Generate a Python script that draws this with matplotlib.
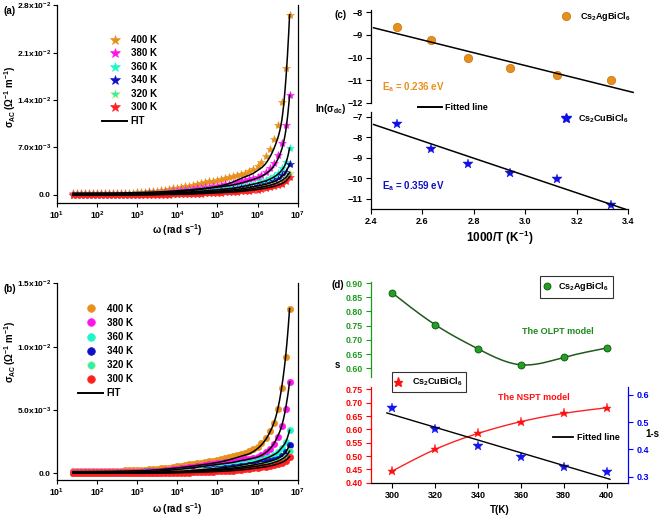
import numpy as np
import matplotlib
matplotlib.use('Agg')
import matplotlib.pyplot as plt
from matplotlib.lines import Line2D
from matplotlib.ticker import NullLocator

plt.rcParams['font.family'] = ['Liberation Sans', 'DejaVu Sans']
plt.rcParams['font.weight'] = 'bold'
plt.rcParams['axes.labelweight'] = 'bold'
plt.rcParams['mathtext.fontset'] = 'custom'
plt.rcParams['mathtext.rm'] = 'Liberation Sans:bold'
plt.rcParams['mathtext.it'] = 'Liberation Sans:bold'
plt.rcParams['mathtext.bf'] = 'Liberation Sans:bold'
plt.rcParams['mathtext.sf'] = 'Liberation Sans:bold'
plt.rcParams['mathtext.default'] = 'rm'
plt.rcParams['axes.linewidth'] = 0.9

# ---------------- data: panels (a) and (b) -----------------
omega = [25.0, 31.5, 39.6, 49.9,
         62.8, 79.1, 99.6, 125, 158, 199, 250, 315, 396, 499,
         628, 791, 996, 1250, 1580, 1990, 2500, 3150, 3960, 4990,
         6280, 7910, 9960, 1.25e4, 1.58e4, 1.99e4, 2.50e4, 3.15e4, 3.96e4, 4.99e4,
         6.28e4, 7.91e4, 9.96e4, 1.25e5, 1.58e5, 1.99e5, 2.50e5, 3.15e5, 3.96e5, 4.99e5,
         6.28e5, 7.91e5, 9.96e5, 1.25e6, 1.58e6, 1.99e6, 2.50e6, 3.15e6, 3.96e6, 4.99e6,
         6.28e6]
temps = ['400 K', '380 K', '360 K', '340 K', '320 K', '300 K']
colors = ['#E8901C', '#FF14F0', '#22F5C8', '#1010C8', '#30F0B0', '#FF2020']
edge_colors = ['#E8901C', '#FF14F0', '#22F5C8', '#1010C8', '#E8F080', '#FF2020']

# sigma_AC in units of 1e-3 (ohm^-1 m^-1), Cs2CuBiCl6 (a)
sig_a_400 = [0.25, 0.25, 0.25, 0.26, 0.26, 0.26, 0.27,
             0.27, 0.28, 0.28, 0.29, 0.30, 0.31, 0.32, 0.33, 0.35, 0.36,
             0.40, 0.45, 0.50, 0.56, 0.62, 0.70, 0.78, 0.87, 0.97, 1.07,
             1.17, 1.27, 1.38, 1.49, 1.60, 1.72, 1.85, 1.98, 2.12, 2.27,
             2.40, 2.50, 2.65, 2.80, 2.95, 3.10, 3.30, 3.50, 3.80, 4.20,
             4.80, 5.70, 6.80, 8.20, 10.3, 13.7, 18.8, 26.6]
sig_a_380 = [0.10, 0.10, 0.10, 0.10, 0.11, 0.11, 0.11,
             0.11, 0.12, 0.12, 0.12, 0.13, 0.13, 0.14, 0.15, 0.16, 0.17,
             0.18, 0.20, 0.22, 0.25, 0.28, 0.32, 0.37, 0.43, 0.50, 0.58,
             0.65, 0.72, 0.80, 0.88, 0.96, 1.04, 1.12, 1.20, 1.28, 1.36,
             1.45, 1.54, 1.64, 1.75, 1.87, 2.00, 2.13, 2.28, 2.45, 2.65,
             3.00, 3.40, 3.90, 4.70, 5.90, 7.60, 10.3, 14.7]
sig_a_360 = [0.03, 0.03, 0.03, 0.03, 0.03, 0.03, 0.03,
             0.03, 0.03, 0.04, 0.04, 0.04, 0.05, 0.05, 0.06, 0.06, 0.07,
             0.08, 0.09, 0.10, 0.12, 0.14, 0.16, 0.19, 0.23, 0.28, 0.34,
             0.40, 0.45, 0.50, 0.55, 0.60, 0.65, 0.70, 0.75, 0.80, 0.86,
             0.92, 0.98, 1.05, 1.12, 1.20, 1.30, 1.40, 1.52, 1.66, 1.82,
             2.00, 2.20, 2.50, 2.80, 3.30, 3.90, 4.90, 6.90]
sig_a_340 = [0.02, 0.02, 0.02, 0.02, 0.02, 0.02, 0.02,
             0.02, 0.02, 0.02, 0.03, 0.03, 0.03, 0.03, 0.04, 0.04, 0.05,
             0.05, 0.06, 0.07, 0.08, 0.09, 0.10, 0.12, 0.14, 0.17, 0.20,
             0.24, 0.28, 0.32, 0.36, 0.40, 0.44, 0.48, 0.52, 0.56, 0.60,
             0.65, 0.70, 0.76, 0.82, 0.88, 0.95, 1.03, 1.12, 1.22, 1.34,
             1.48, 1.64, 1.82, 2.05, 2.40, 2.90, 3.45, 4.60]
sig_a_320 = [0.01, 0.01, 0.01, 0.01, 0.01, 0.01, 0.01,
             0.01, 0.01, 0.01, 0.02, 0.02, 0.02, 0.02, 0.02, 0.03, 0.03,
             0.03, 0.04, 0.04, 0.05, 0.06, 0.07, 0.08, 0.10, 0.12, 0.14,
             0.17, 0.20, 0.23, 0.26, 0.29, 0.32, 0.35, 0.38, 0.41, 0.45,
             0.49, 0.53, 0.58, 0.63, 0.68, 0.74, 0.80, 0.87, 0.95, 1.04,
             1.15, 1.28, 1.42, 1.60, 1.82, 2.10, 2.60, 3.30]
sig_a_300 = [0.005, 0.005, 0.005, 0.005, 0.005, 0.005, 0.005,
             0.005, 0.005, 0.006, 0.006, 0.007, 0.008, 0.009, 0.010, 0.011, 0.013,
             0.015, 0.018, 0.021, 0.025, 0.030, 0.036, 0.043, 0.052, 0.063, 0.076,
             0.09, 0.11, 0.13, 0.15, 0.17, 0.19, 0.21, 0.24, 0.27, 0.30,
             0.33, 0.36, 0.40, 0.44, 0.48, 0.53, 0.58, 0.64, 0.71, 0.79,
             0.88, 0.98, 1.10, 1.24, 1.42, 1.65, 2.00, 2.70]

# sigma_AC in units of 1e-3, Cs2AgBiCl6 (b)
sig_b_400 = [0.18, 0.18, 0.18, 0.18, 0.19, 0.19, 0.19,
             0.19, 0.20, 0.20, 0.21, 0.21, 0.22, 0.23, 0.24, 0.25, 0.26,
             0.27, 0.29, 0.31, 0.33, 0.35, 0.38, 0.41, 0.45, 0.50, 0.56,
             0.60, 0.65, 0.70, 0.75, 0.80, 0.85, 0.90, 0.95, 1.00, 1.05,
             1.10, 1.17, 1.25, 1.33, 1.42, 1.52, 1.62, 1.75, 1.90, 2.10,
             2.40, 2.76, 3.30, 3.95, 5.07, 6.70, 9.20, 13.0]
sig_b_380 = [0.08, 0.08, 0.08, 0.08, 0.08, 0.08, 0.08,
             0.08, 0.08, 0.09, 0.09, 0.09, 0.10, 0.10, 0.11, 0.12, 0.13,
             0.14, 0.15, 0.16, 0.18, 0.20, 0.22, 0.25, 0.28, 0.31, 0.35,
             0.39, 0.43, 0.47, 0.51, 0.56, 0.60, 0.65, 0.70, 0.75, 0.80,
             0.84, 0.88, 0.92, 0.96, 1.00, 1.05, 1.10, 1.16, 1.23, 1.30,
             1.45, 1.66, 1.90, 2.30, 2.90, 3.70, 5.10, 7.20]
sig_b_360 = [0.03, 0.03, 0.03, 0.03, 0.03, 0.03, 0.03,
             0.03, 0.03, 0.03, 0.03, 0.04, 0.04, 0.04, 0.05, 0.05, 0.06,
             0.06, 0.07, 0.08, 0.09, 0.10, 0.11, 0.12, 0.13, 0.14, 0.15,
             0.17, 0.19, 0.21, 0.24, 0.27, 0.30, 0.33, 0.36, 0.40, 0.44,
             0.48, 0.52, 0.56, 0.60, 0.65, 0.70, 0.76, 0.82, 0.90, 0.98,
             1.07, 1.18, 1.30, 1.45, 1.65, 2.00, 2.45, 3.40]
sig_b_340 = [0.02, 0.02, 0.02, 0.02, 0.02, 0.02, 0.02,
             0.02, 0.02, 0.02, 0.02, 0.02, 0.03, 0.03, 0.03, 0.03, 0.04,
             0.04, 0.04, 0.05, 0.05, 0.06, 0.07, 0.08, 0.09, 0.10, 0.11,
             0.12, 0.14, 0.16, 0.18, 0.20, 0.22, 0.24, 0.27, 0.30, 0.33,
             0.36, 0.39, 0.42, 0.46, 0.50, 0.54, 0.58, 0.63, 0.68, 0.74,
             0.80, 0.87, 0.95, 1.04, 1.15, 1.35, 1.66, 2.24]
sig_b_320 = [0.01, 0.01, 0.01, 0.01, 0.01, 0.01, 0.01,
             0.01, 0.01, 0.01, 0.01, 0.01, 0.02, 0.02, 0.02, 0.02, 0.02,
             0.03, 0.03, 0.03, 0.04, 0.04, 0.05, 0.05, 0.06, 0.07, 0.08,
             0.09, 0.10, 0.11, 0.13, 0.15, 0.17, 0.19, 0.21, 0.23, 0.25,
             0.27, 0.29, 0.32, 0.35, 0.38, 0.41, 0.45, 0.49, 0.53, 0.58,
             0.63, 0.69, 0.76, 0.84, 0.94, 1.08, 1.30, 1.75]
sig_b_300 = [0.005, 0.005, 0.005, 0.005, 0.005, 0.005, 0.005,
             0.005, 0.005, 0.006, 0.006, 0.006, 0.007, 0.008, 0.009, 0.010, 0.011,
             0.012, 0.014, 0.016, 0.018, 0.020, 0.023, 0.026, 0.030, 0.035, 0.040,
             0.046, 0.053, 0.060, 0.070, 0.080, 0.090, 0.100, 0.115, 0.130, 0.145,
             0.16, 0.18, 0.20, 0.22, 0.25, 0.28, 0.31, 0.34, 0.38, 0.42,
             0.46, 0.51, 0.57, 0.64, 0.72, 0.84, 1.00, 1.32]

# fitted curves (units of 1e-3), sampled at these frequencies
fit_omega = [25.0, 996, 9960, 3.15e4, 9.96e4, 1.99e5, 3.96e5, 6.28e5, 7.91e5,
             9.96e5, 1.25e6, 1.58e6, 1.99e6, 2.50e6, 3.15e6, 3.96e6, 4.99e6, 6.28e6]
fit_a_400 = [0.25, 0.33, 0.60, 0.85, 1.25, 1.70, 2.45, 2.90, 3.20, 3.60, 4.00, 4.60, 5.50, 6.70, 8.30, 10.8, 16.5, 26.6]
fit_a_380 = [0.10, 0.16, 0.45, 0.75, 1.15, 1.38, 1.75, 2.10, 2.28, 2.50, 2.75, 3.10, 3.55, 4.20, 5.20, 6.65, 9.30, 14.7]
fit_a_360 = [0.03, 0.07, 0.30, 0.50, 0.75, 0.90, 1.20, 1.45, 1.58, 1.72, 1.88, 2.06, 2.30, 2.60, 3.00, 3.60, 4.60, 6.90]
fit_a_340 = [0.02, 0.05, 0.20, 0.35, 0.55, 0.68, 0.90, 1.10, 1.20, 1.30, 1.42, 1.56, 1.74, 1.96, 2.25, 2.70, 3.30, 4.60]
fit_a_320 = [0.01, 0.03, 0.14, 0.26, 0.42, 0.52, 0.70, 0.86, 0.95, 1.04, 1.14, 1.26, 1.40, 1.58, 1.80, 2.10, 2.55, 3.30]
fit_a_300 = [0.005, 0.015, 0.075, 0.16, 0.30, 0.38, 0.52, 0.65, 0.72, 0.80, 0.88, 0.98, 1.10, 1.24, 1.42, 1.65, 2.00, 2.70]
fit_b_400 = [0.12, 0.20, 0.42, 0.62, 0.85, 1.07, 1.35, 1.55, 1.72, 1.95, 2.25, 2.65, 3.20, 3.90, 5.00, 6.70, 9.20, 13.0]
fit_b_380 = [0.05, 0.10, 0.30, 0.48, 0.70, 0.82, 1.00, 1.12, 1.20, 1.28, 1.42, 1.62, 1.90, 2.30, 2.90, 3.70, 5.10, 7.20]
fit_b_360 = [0.02, 0.05, 0.14, 0.25, 0.40, 0.50, 0.65, 0.78, 0.86, 0.95, 1.05, 1.16, 1.29, 1.45, 1.65, 2.00, 2.45, 3.40]
fit_b_340 = [0.01, 0.03, 0.10, 0.18, 0.30, 0.38, 0.50, 0.60, 0.66, 0.72, 0.78, 0.86, 0.94, 1.04, 1.16, 1.36, 1.66, 2.24]
fit_b_320 = [0.005, 0.02, 0.07, 0.13, 0.23, 0.30, 0.40, 0.48, 0.52, 0.57, 0.62, 0.68, 0.75, 0.84, 0.95, 1.10, 1.32, 1.75]
fit_b_300 = [0.003, 0.01, 0.04, 0.08, 0.14, 0.19, 0.27, 0.34, 0.38, 0.42, 0.46, 0.51, 0.57, 0.64, 0.73, 0.85, 1.02, 1.32]

# ---------------- data: panel (c) -----------------
inv_T = [2.500, 2.632, 2.778, 2.941, 3.125, 3.333]
ln_sdc_ag = [-8.66, -9.25, -10.02, -10.46, -10.78, -11.00]
ln_sdc_cu = [-7.34, -8.54, -9.29, -9.73, -10.02, -11.31]

# ---------------- data: panel (d) -----------------
T_K = [300, 320, 340, 360, 380, 400]
s_ag = [0.865, 0.753, 0.668, 0.612, 0.638, 0.671]
s_cu = [0.444, 0.525, 0.585, 0.629, 0.660, 0.681]
one_minus_s_cu = [0.553, 0.474, 0.414, 0.371, 0.337, 0.317]


def natural_spline(x, y, xs):
    x = np.asarray(x, float); y = np.asarray(y, float); xs = np.asarray(xs, float)
    n = len(x); h = np.diff(x)
    A = np.zeros((n, n)); b = np.zeros(n)
    A[0, 0] = A[-1, -1] = 1.0
    for i in range(1, n - 1):
        A[i, i - 1] = h[i - 1]; A[i, i] = 2 * (h[i - 1] + h[i]); A[i, i + 1] = h[i]
        b[i] = 3 * ((y[i + 1] - y[i]) / h[i] - (y[i] - y[i - 1]) / h[i - 1])
    c = np.linalg.solve(A, b)
    bb = (y[1:] - y[:-1]) / h - h * (2 * c[:-1] + c[1:]) / 3
    d = (c[1:] - c[:-1]) / (3 * h)
    idx = np.clip(np.searchsorted(x, xs) - 1, 0, n - 2)
    dx = xs - x[idx]
    return y[idx] + bb[idx] * dx + c[idx] * dx ** 2 + d[idx] * dx ** 3


W, H = 661, 517
fig = plt.figure(figsize=(W / 100, H / 100), dpi=100)


def rect(l, t, r, b):
    return [l / W, 1 - b / H, (r - l) / W, (b - t) / H]


ax_a = fig.add_axes(rect(57, 5.3, 297.7, 203))
ax_b = fig.add_axes(rect(57, 283.3, 297.7, 480))
ax_c1 = fig.add_axes(rect(371, 10, 628, 103))
ax_c2 = fig.add_axes(rect(371, 112, 628, 209))
ax_d1 = fig.add_axes(rect(371, 281.7, 628, 376.7))
ax_d2 = fig.add_axes(rect(371, 386.7, 628, 482.7))
ax_d3 = ax_d2.twinx()


def ac_panel(ax, series, fits, marker, ms, ylim, yticks, ylabels, leg_anchor, leg_spacing):
    om = np.array(omega)
    for vals, c, ec in zip(series, colors, edge_colors):
        ax.plot(om, np.array(vals) * 1e-3, ls='none', marker=marker, ms=ms,
                mfc=c, mec=ec, mew=0.4, zorder=2)
    lx = np.linspace(np.log10(fit_omega[0]), np.log10(fit_omega[-1]), 500)
    for fv in fits:
        ly = natural_spline(np.log10(fit_omega), np.log10(fv), lx)
        ax.plot(10 ** lx, 10 ** ly * 1e-3, color='k', lw=1.1, zorder=3)
    ax.set_xscale('log')
    ax.set_xlim(10, 1e7)
    ax.set_ylim(*ylim)
    ax.xaxis.set_minor_locator(NullLocator())
    ax.set_xticks([10.0 ** k for k in range(1, 8)])
    ax.set_xticklabels([r'$10^{%d}$' % k for k in range(1, 8)])
    ax.set_yticks(yticks)
    ax.set_yticklabels(ylabels)
    ax.spines['top'].set_visible(False)
    ax.tick_params(axis='x', labelsize=6.3)
    ax.tick_params(axis='y', labelsize=6.0)
    ax.tick_params(axis='both', direction='out', length=3, width=0.8, pad=1.5,
                   right=False, top=False)
    handles = [Line2D([], [], ls='none', marker=marker, ms=ms + 1, mfc=c, mec=ec, mew=0.4)
               for c, ec in zip(colors, edge_colors)]
    handles.append(Line2D([], [], color='k', lw=1.4))
    ax.legend(handles, temps + ['FIT'], loc='upper left', bbox_to_anchor=leg_anchor,
              frameon=False, fontsize=7, handlelength=2.6, handletextpad=0.35,
              labelspacing=leg_spacing, borderpad=0, borderaxespad=0)
    ax.set_xlabel(r'$\omega$ (rad s$^{-1}$)', fontsize=7)
    ax.set_ylabel(r'$\sigma_{AC}\,(\Omega^{-1}\ m^{-1})$', fontsize=7)
    ax.yaxis.label.set_va('center')
    ax.xaxis.label.set_va('center')


ac_panel(ax_a, [sig_a_400, sig_a_380, sig_a_360, sig_a_340, sig_a_320, sig_a_300],
         [fit_a_400, fit_a_380, fit_a_360, fit_a_340, fit_a_320, fit_a_300],
         '*', 6, (-1.2e-3, 2.8e-2), [0, 7e-3, 1.4e-2, 2.1e-2, 2.8e-2],
         ['0.0', r'7.0x10$^{-3}$', r'1.4x10$^{-2}$', r'2.1x10$^{-2}$', r'2.8x10$^{-2}$'],
         (0.187, 0.85), 0.36)
ax_a.xaxis.set_label_coords(0.5, -0.137)
ax_a.yaxis.set_label_coords(-0.195, 0.536)

ac_panel(ax_b, [sig_b_400, sig_b_380, sig_b_360, sig_b_340, sig_b_320, sig_b_300],
         [fit_b_400, fit_b_380, fit_b_360, fit_b_340, fit_b_320, fit_b_300],
         'o', 4.6, (-0.53e-3, 1.5e-2), [0, 5e-3, 1e-2, 1.5e-2],
         ['0.0', r'5.0x10$^{-3}$', r'1.0x10$^{-2}$', r'1.5x10$^{-2}$'],
         (0.087, 0.896), 0.42)
ax_b.xaxis.set_label_coords(0.5, -0.15)
ax_b.yaxis.set_label_coords(-0.195, 0.65)

# ---------------- panel (c) -----------------
for ax in (ax_c1, ax_c2):
    ax.set_xlim(2.4, 3.4)
    ax.spines['top'].set_visible(False)
    ax.spines['right'].set_visible(False)
    ax.tick_params(axis='both', direction='out', length=3.5, width=0.8, labelsize=6.5, pad=2.5)
ax_c1.spines['bottom'].set_visible(False)
ax_c1.tick_params(axis='x', bottom=False, labelbottom=False)

ag_color = '#E8901C'
cu_color = '#1010E0'
ax_c1.plot(inv_T, ln_sdc_ag, ls='none', marker='o', ms=6, mfc=ag_color, mec='#C87010', mew=0.5)
p_ag = np.polyfit(inv_T, ln_sdc_ag, 1)
xf = np.array([2.41, 3.42])
ax_c1.plot(xf, np.polyval(p_ag, xf), color='k', lw=1.1, clip_on=False)
ax_c1.set_ylim(-12, -7.91)
ax_c1.set_yticks([-12, -11, -10, -9, -8])

ax_c2.plot(inv_T, ln_sdc_cu, ls='none', marker='*', ms=7, mfc=cu_color, mec=cu_color, mew=0.3)
p_cu = np.polyfit(inv_T, ln_sdc_cu, 1)
xf2 = np.array([2.41, 3.39])
ax_c2.plot(xf2, np.polyval(p_cu, xf2), color='k', lw=1.1, clip_on=False)
ax_c2.set_ylim(-11.49, -6.76)
ax_c2.set_yticks([-11, -10, -9, -8, -7])
ax_c2.set_xticks([2.4, 2.6, 2.8, 3.0, 3.2, 3.4])
ax_c2.set_xticklabels(['%.1f' % v for v in [2.4, 2.6, 2.8, 3.0, 3.2, 3.4]])
ax_c2.set_xlabel(r'1000/T (K$^{-1}$)', fontsize=8.5)
ax_c2.xaxis.set_label_coords(0.5, -0.30)
ax_c2.xaxis.label.set_va('center')

ax_c2.legend([Line2D([], [], ls='none', marker='*', ms=7, mfc=cu_color, mec=cu_color)],
             [r'Cs$_2$CuBiCl$_6$'], loc='center left', bbox_to_anchor=(0.742, 0.935),
             frameon=False, fontsize=6.5, handlelength=1.0, handletextpad=0.8,
             borderpad=0, borderaxespad=0)
leg_fl = ax_c1.legend([Line2D([], [], color='k', lw=1.4)], ['Fitted line'], loc='center left',
                      bbox_to_anchor=(0.183, -0.046), frameon=False, fontsize=6.5,
                      handlelength=2.67, handletextpad=0.35, borderpad=0, borderaxespad=0)
ax_c1.add_artist(leg_fl)
ax_c1.legend([Line2D([], [], ls='none', marker='o', ms=6, mfc=ag_color, mec='#C87010', mew=0.5)],
             [r'Cs$_2$AgBiCl$_6$'], loc='center left', bbox_to_anchor=(0.742, 0.925),
             frameon=False, fontsize=6.5, handlelength=1.0, handletextpad=1.0,
             borderpad=0, borderaxespad=0)
ax_c1.text(0.042, 0.169, r'E$_a$ = 0.236 eV', transform=ax_c1.transAxes, color=ag_color,
           fontsize=7, va='center', ha='left')
ax_c2.text(0.042, 0.24, r'E$_a$ = 0.359 eV', transform=ax_c2.transAxes, color='#1010C0',
           fontsize=7, va='center', ha='left')
fig.text(315 / W, 1 - 109 / H, r'ln($\sigma_{dc}$)', fontsize=7, va='center', ha='left')

# ---------------- panel (d) -----------------
green = '#1E9A1E'
for ax in (ax_d1, ax_d2):
    ax.set_xlim(290, 410)
    ax.spines['top'].set_visible(False)
    ax.spines['right'].set_visible(False)
    ax.tick_params(axis='both', direction='out', length=3.5, width=0.8, pad=2.5)
ax_d1.spines['bottom'].set_visible(False)
ax_d1.tick_params(axis='x', bottom=False, labelbottom=False)
ax_d1.spines['left'].set_color(green)
ax_d1.tick_params(axis='y', colors=green, labelsize=6.3)

Ts = np.linspace(T_K[0], T_K[-1], 300)
ax_d1.plot(Ts, natural_spline(T_K, s_ag, Ts), color='#1F5A1F', lw=1.1)
ax_d1.plot(T_K, s_ag, ls='none', marker='o', ms=5, mfc='#22A022', mec='#105010', mew=0.6)
ax_d1.set_ylim(0.57, 0.905)
ax_d1.set_yticks([0.60, 0.65, 0.70, 0.75, 0.80, 0.85, 0.90])
ax_d1.set_yticklabels(['%.2f' % v for v in [0.60, 0.65, 0.70, 0.75, 0.80, 0.85, 0.90]])
lg = ax_d1.legend([Line2D([], [], ls='none', marker='o', ms=5, mfc='#22A022', mec='#105010', mew=0.6)],
                  [r'Cs$_2$AgBiCl$_6$'], loc='upper left', bbox_to_anchor=(0.658, 1.063),
                  frameon=True, fancybox=False, edgecolor='k', fontsize=6.5, handlelength=0.5,
                  handletextpad=1.0, borderpad=0.5, borderaxespad=0)
lg.get_frame().set_linewidth(0.8)
ax_d1.text(0.728, 0.481, 'The OLPT model', transform=ax_d1.transAxes, color='#1E8A1E',
           fontsize=6.5, ha='center', va='center')

ax_d2.plot(Ts, natural_spline(T_K, s_cu, Ts), color='#FF2020', lw=1.0)
ax_d2.plot(T_K, s_cu, ls='none', marker='*', ms=6.5, mfc='#FF1010', mec='#FF1010', mew=0.3)
ax_d2.set_ylim(0.40, 0.76)
ax_d2.set_yticks([0.40, 0.45, 0.50, 0.55, 0.60, 0.65, 0.70, 0.75])
ax_d2.set_yticklabels(['%.2f' % v for v in [0.40, 0.45, 0.50, 0.55, 0.60, 0.65, 0.70, 0.75]])
ax_d2.spines['left'].set_color('#FF0000')
ax_d2.tick_params(axis='y', colors='#FF0000', labelsize=6.3)
ax_d2.tick_params(axis='x', labelsize=6.5)
ax_d2.set_xticks([300, 320, 340, 360, 380, 400])
ax_d2.set_xlabel('T(K)', fontsize=7)
ax_d2.xaxis.set_label_coords(0.5, -0.284)
ax_d2.xaxis.label.set_va('center')
lg2 = ax_d2.legend([Line2D([], [], ls='none', marker='*', ms=6.5, mfc='#FF1010', mec='#FF1010')],
                   [r'Cs$_2$CuBiCl$_6$'], loc='upper left', bbox_to_anchor=(0.0805, 1.15),
                   frameon=True, fancybox=False, edgecolor='k', fontsize=6.5, handlelength=0.6,
                   handletextpad=1.2, borderpad=0.4, borderaxespad=0)
lg2.get_frame().set_linewidth(0.8)
ax_d2.text(0.634, 0.89, 'The NSPT model', transform=ax_d2.transAxes, color='#FF1010',
           fontsize=6.5, ha='center', va='center')

ax_d3.set_xlim(290, 410)
for sp in ('top', 'left', 'bottom'):
    ax_d3.spines[sp].set_visible(False)
ax_d3.spines['right'].set_color('#0000FF')
ax_d3.plot(T_K, one_minus_s_cu, ls='none', marker='*', ms=7, mfc='#1515F0', mec='#1515F0', mew=0.3)
p_d = np.polyfit(T_K, one_minus_s_cu, 1)
tf = np.array([297.4, 401.6])
ax_d3.plot(tf, np.polyval(p_d, tf), color='k', lw=1.0)
ax_d3.set_ylim(0.278, 0.63)
ax_d3.set_yticks([0.3, 0.4, 0.5, 0.6])
ax_d3.set_yticklabels(['%.1f' % v for v in [0.3, 0.4, 0.5, 0.6]])
ax_d3.tick_params(axis='y', colors='#0000FF', direction='out', length=3.5, width=0.8,
                  labelsize=6.5, pad=2.5)
ax_d3.legend([Line2D([], [], color='k', lw=1.3)], ['Fitted line'], loc='center left',
             bbox_to_anchor=(0.708, 0.466), frameon=False, fontsize=6.5, handlelength=2.2,
             handletextpad=0.5, borderpad=0, borderaxespad=0)

fig.text(337 / W, 1 - 365 / H, 's', fontsize=7, ha='center', va='center')
fig.text(652 / W, 1 - 434 / H, '1-s', fontsize=7, ha='center', va='center')

# panel labels
fig.text(3 / W, 1 - 11 / H, '(a)', fontsize=7, va='center')
fig.text(3 / W, 1 - 289 / H, '(b)', fontsize=7, va='center')
fig.text(335 / W, 1 - 15 / H, '(c)', fontsize=7, va='center')
fig.text(332 / W, 1 - 285 / H, '(d)', fontsize=7, va='center')

fig.savefig('out.png', dpi=100)
